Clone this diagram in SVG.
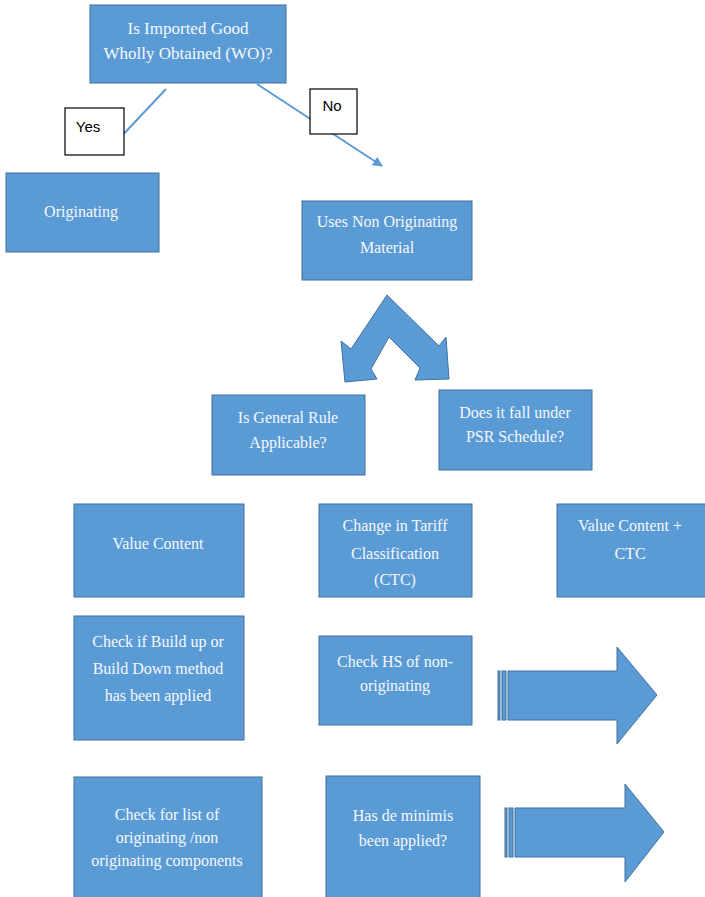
<svg xmlns="http://www.w3.org/2000/svg" width="705" height="897" viewBox="0 0 705 897">
<defs>
<style>
.box{fill:#5B9BD5;stroke:#41719C;stroke-width:1}
.lbl{fill:#ffffff;stroke:#000000;stroke-width:1.2}
.t{font-family:"Liberation Serif","Times New Roman",serif;font-size:16px;fill:#F4F8FC;text-anchor:middle}
.t17{font-size:17px}
.s{font-family:"Liberation Sans",Arial,sans-serif;font-size:15px;fill:#000000;text-anchor:middle}
.conn{stroke:#5B9BD5;stroke-width:2;fill:none}
.shape{fill:#5B9BD5;stroke:#41719C;stroke-width:1}
</style>
<marker id="ah" viewBox="0 0 10 10" refX="9" refY="5" markerWidth="5" markerHeight="5" orient="auto" markerUnits="strokeWidth">
<path d="M0,0 L10,5 L0,10 z" fill="#5B9BD5"/>
</marker>
</defs>
<rect width="705" height="897" fill="#ffffff"/>

<g id="connectors">
<line class="conn" x1="166" y1="89" x2="118" y2="140"/>
<line class="conn" x1="257" y1="84" x2="382" y2="166" marker-end="url(#ah)"/>
</g>

<g id="n-wo">
<rect class="box" x="90" y="5" width="196" height="78"/>
<text class="t t17" x="188" y="34">Is Imported Good</text>
<text class="t t17" x="188" y="59">Wholly Obtained (WO)?</text>
</g>

<g id="lbl-yes">
<rect class="lbl" x="65" y="108" width="59" height="47"/>
<text class="s" x="88" y="132">Yes</text>
</g>

<g id="lbl-no">
<rect class="lbl" x="310" y="89" width="47" height="45"/>
<text class="s" x="332" y="111">No</text>
</g>

<g id="n-originating">
<rect class="box" x="6" y="173" width="153" height="79"/>
<text class="t" x="81" y="217">Originating</text>
</g>

<g id="n-nonorig">
<rect class="box" x="302" y="201" width="170" height="79"/>
<text class="t" x="387" y="227">Uses Non Originating</text>
<text class="t" x="387" y="253">Material</text>
</g>

<g id="split-arrow">
<path class="shape" d="M387,295 L439,346 L446,337 L449,379 L415,380 L420,368 L389,337 L371,369 L377,379 L345,382 L341,341 L351,349 Z"/>
</g>

<g id="n-general">
<rect class="box" x="212" y="395" width="153" height="80"/>
<text class="t" x="288" y="423">Is General Rule</text>
<text class="t" x="288" y="448">Applicable?</text>
</g>

<g id="n-psr">
<rect class="box" x="439" y="390" width="153" height="80"/>
<text class="t" x="515" y="418">Does it fall under</text>
<text class="t" x="515" y="442">PSR Schedule?</text>
</g>

<g id="n-vc">
<rect class="box" x="74" y="504" width="170" height="93"/>
<text class="t" x="158" y="549">Value  Content</text>
</g>

<g id="n-ctc">
<rect class="box" x="319" y="504" width="153" height="93"/>
<text class="t" x="395" y="531">Change in Tariff</text>
<text class="t" x="395" y="559">Classification</text>
<text class="t" x="395" y="585">(CTC)</text>
</g>

<g id="n-vcctc">
<rect class="box" x="557" y="504" width="150" height="93"/>
<text class="t" x="630" y="531">Value Content +</text>
<text class="t" x="630" y="559">CTC</text>
</g>

<g id="n-build">
<rect class="box" x="74" y="616" width="170" height="124"/>
<text class="t" x="158" y="647">Check if Build  up or</text>
<text class="t" x="158" y="674">Build  Down method</text>
<text class="t" x="158" y="701">has been applied</text>
</g>

<g id="n-hs">
<rect class="box" x="319" y="636" width="153" height="89"/>
<text class="t" x="395" y="667">Check HS of non-</text>
<text class="t" x="395" y="691">originating</text>
</g>

<g id="arrow-1">
<rect class="shape" x="498" y="671" width="2" height="49"/>
<rect class="shape" x="502" y="671" width="4" height="49"/>
<path class="shape" d="M508,671 L617,671 L617,647 L657,695 L617,744 L617,720 L508,720 Z"/>
</g>

<g id="n-list">
<rect class="box" x="74" y="777" width="188" height="125"/>
<text class="t" x="167" y="820">Check for list of</text>
<text class="t" x="167" y="843">originating /non</text>
<text class="t" x="167" y="866">originating  components</text>
</g>

<g id="n-deminimis">
<rect class="box" x="326" y="776" width="154" height="126"/>
<text class="t" x="403" y="821">Has de minimis</text>
<text class="t" x="403" y="846">been applied?</text>
</g>

<g id="arrow-2">
<rect class="shape" x="505" y="808" width="2" height="49"/>
<rect class="shape" x="509" y="808" width="4" height="49"/>
<path class="shape" d="M515,808 L625,808 L625,784 L664,832 L625,882 L625,857 L515,857 Z"/>
</g>
</svg>
